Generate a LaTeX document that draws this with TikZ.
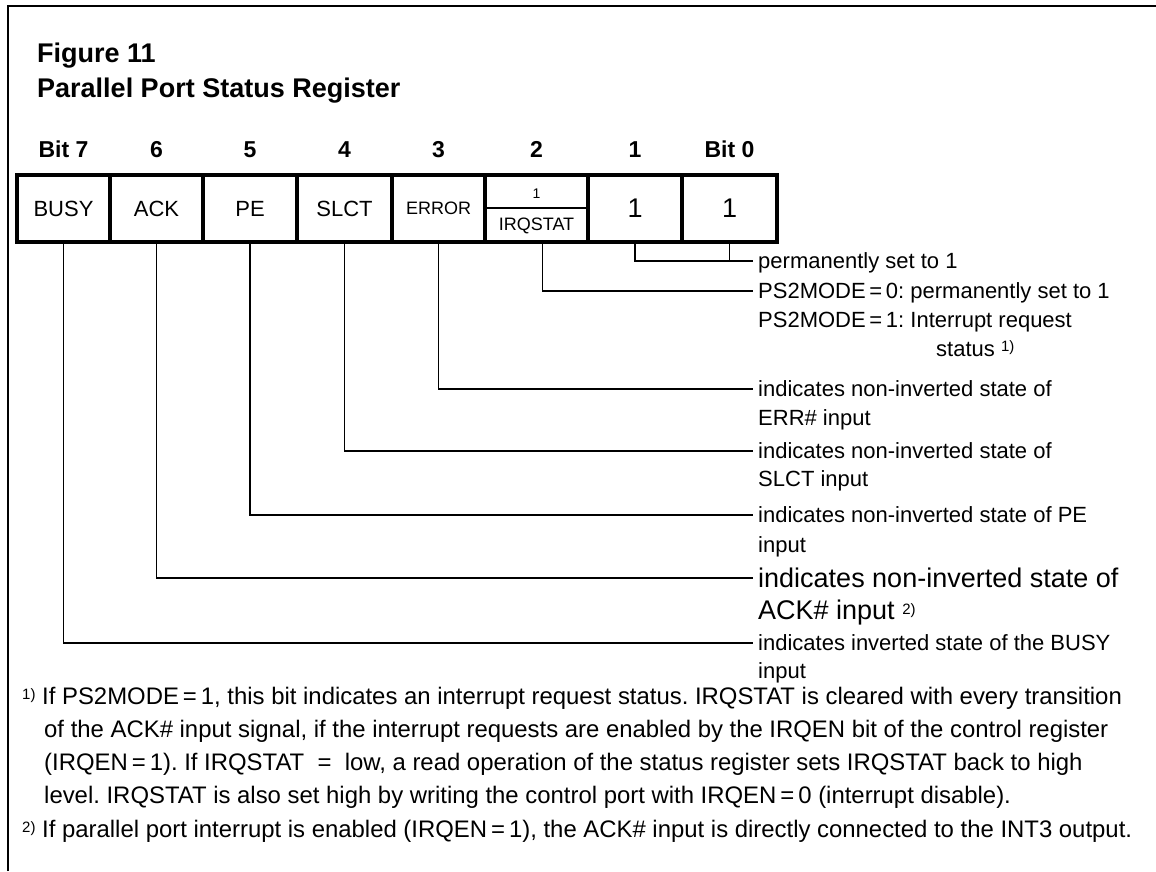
\documentclass[tikz,border=0pt]{standalone}
\usepackage{fontspec}
\setmainfont{Liberation Sans}
\frenchspacing
\newcommand\fsz[1]{\fontsize{#1}{#1}\selectfont}
\newcommand\supm[1]{\raisebox{5pt}{\fsz{15}#1}}
\begin{document}
\begin{tikzpicture}[x=1pt,y=-1pt,
  frame/.style={line width=2.6},
  cell/.style={draw, line width=3.2, minimum height=67, inner sep=0, font=\fsz{22}},
  bitlab/.style={anchor=base, inner sep=0, font=\fsz{23}\bfseries},
  title/.style={anchor=base west, inner sep=0, font=\fsz{27}\bfseries},
  conn/.style={line width=1.4},
  lab/.style={anchor=west, inner xsep=5, inner ysep=0, text height=15.7, text depth=0, font=\fsz{22}},
  labbig/.style={anchor=west, inner xsep=5, inner ysep=0, text height=19.3, text depth=0, font=\fsz{27}},
  fn/.style={anchor=base west, inner sep=0, font=\fsz{23.9}}]
\useasboundingbox (0,0) rectangle (1156,871);
% frame
\draw[frame] (8,871) -- (8,6) -- (1156,6);
% title
\node[title] (t1) at (37,62) {Figure 11};
\node[title] (t2) at (37,97) {Parallel Port Status Register};
% register cells
\node[cell, minimum width=93] (b7) at (63.5,208.5) {BUSY};
\node[cell, minimum width=93] (b6) at (156.5,208.5) {ACK};
\node[cell, minimum width=94] (b5) at (250,208.5) {PE};
\node[cell, minimum width=95] (b4) at (344.5,208.5) {SLCT};
\node[cell, minimum width=93, font=\fsz{18}] (b3) at (438.5,208.5) {ERROR};
\node[cell, minimum width=103] (b2) at (536.5,208.5) {};
\node[cell, minimum width=94, font=\fsz{27}] (b1) at (635,208.5) {1};
\node[cell, minimum width=95, font=\fsz{27}] (b0) at (729.5,208.5) {1};
\draw[line width=1.5] (b2.west |- 0,208) -- (b2.east |- 0,208);
\node[inner sep=0, font=\fsz{14}] (b2u) at (536.5,194) {1};
\node[inner sep=0, font=\fsz{18}] (b2l) at (536.5,226) {IRQSTAT};
% bit numbers
\node[bitlab] (n7) at (b7 |- 0,157) {Bit 7};
\node[bitlab] (n6) at (b6 |- 0,157) {6};
\node[bitlab] (n5) at (b5 |- 0,157) {5};
\node[bitlab] (n4) at (b4 |- 0,157) {4};
\node[bitlab] (n3) at (b3 |- 0,157) {3};
\node[bitlab] (n2) at (b2 |- 0,157) {2};
\node[bitlab] (n1) at (b1 |- 0,157) {1};
\node[bitlab] (n0) at (b0 |- 0,157) {Bit 0};
% labels
\node[lab] (l0) at (753,261) {permanently set to 1};
\node[lab] (l2) at (753,291) {PS2MODE\,=\,0: permanently set to 1};
\node[lab] (l2b) at (753,320) {PS2MODE\,=\,1: Interrupt request};
\node[lab] (l2c) at (931,349) {status \supm{1)}};
\node[lab] (l3) at (753,389) {indicates non-inverted state of};
\node[lab] (l3b) at (753,418) {ERR\# input};
\node[lab] (l4) at (753,451) {indicates non-inverted state of};
\node[lab] (l4b) at (753,479) {SLCT input};
\node[lab] (l5) at (753,515) {indicates non-inverted state of PE};
\node[lab] (l5b) at (753,545) {input};
\node[labbig] (l6) at (753,578) {indicates non-inverted state of};
\node[labbig] (l6b) at (753,610) {ACK\# input \supm{2)}};
\node[lab] (l7) at (753,643) {indicates inverted state of the BUSY};
\node[lab] (l7b) at (753,671) {input};
% connectors
\draw[conn] (b1.south) |- (l0.west);
\draw[conn] (b0.south) |- (l0.west);
\draw[conn] ([xshift=6]b2.south) |- (l2.west);
\draw[conn] (b3.south) |- (l3.west);
\draw[conn] (b4.south) |- (l4.west);
\draw[conn] (b5.south) |- (l5.west);
\draw[conn] (b6.south) |- (l6.west);
\draw[conn] (b7.south) |- (l7.west);
% footnotes
\node[fn] (f1a) at (22,704) {\supm{1)} If PS2MODE\,=\,1, this bit indicates an interrupt request status. IRQSTAT is cleared with every transition};
\node[fn] (f1b) at (44,737) {of the ACK\# input signal, if the interrupt requests are enabled by the IRQEN bit of the control register};
\node[fn] (f1c) at (44,770) {(IRQEN\,=\,1). If IRQSTAT \ = \ low, a read operation of the status register sets IRQSTAT back to high};
\node[fn] (f1d) at (44,803) {level. IRQSTAT is also set high by writing the control port with IRQEN\,=\,0 (interrupt disable).};
\node[fn] (f2) at (22,837) {\supm{2)} If parallel port interrupt is enabled (IRQEN\,=\,1), the ACK\# input is directly connected to the INT3 output.};
\end{tikzpicture}
\end{document}
